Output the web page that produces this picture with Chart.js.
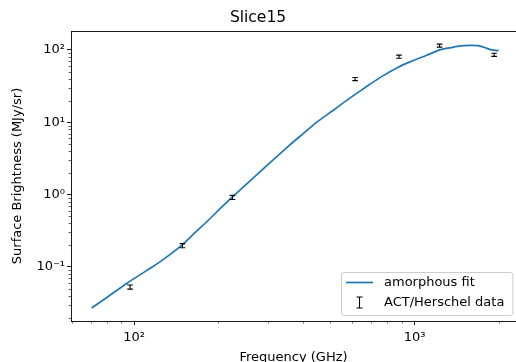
<!DOCTYPE html>
<html>
<head>
<meta charset="utf-8">
<script src="https://cdn.jsdelivr.net/npm/chart.js@4/dist/chart.umd.min.js"></script>
<style>
html,body{margin:0;padding:0;background:#fff}
#wrap{width:516px;height:362px;position:relative}
</style>
</head>
<body>
<div id="wrap"><canvas id="grafico"></canvas></div>
<script>
// curva do ajuste (GHz, MJy/sr)
const fitFreq=[70.6,80,94.7,110,124.5,148.8,165,182.8,204,224.3,250,300,353,400,452,515,578,660,760,868,967,1100,1238,1350,1420,1497,1600,1679,1770,1867,1995];
const fitVal=[0.0271,0.0379,0.060,0.0875,0.1196,0.203,0.298,0.432,0.655,0.929,1.36,2.59,4.59,6.93,10.3,14.8,20.6,29.4,42.5,57,69,84,101,108,112,115,116,115,109,101,98];

// pontos ACT/Herschel com barras de erro
const dataFreq=[96.8,148.8,224.3,614,880,1228,1922];
const dataVal=[0.0529,0.197,0.918,39.7,81,115,86];
const dataErr=[0.0035,0.013,0.06,2.0,4.0,5.5,4.3];

const xMajor=[100,1000];
const yMajor=[0.1,1,10,100];
const xRange=[59.6,2300];
const yRange=[0.0179,183];

const sup={'-':'⁻','0':'⁰','1':'¹','2':'²','3':'³','4':'⁴','5':'⁵','6':'⁶','7':'⁷','8':'⁸','9':'⁹'};
function potencia(v){
  const e=Math.round(Math.log10(v));
  return '10'+String(e).split('').map(c=>sup[c]).join('');
}
function menores(min,max){
  const out=[];
  for(let d=Math.floor(Math.log10(min));d<=Math.ceil(Math.log10(max));d++){
    for(let m=2;m<=9;m++){ const v=m*Math.pow(10,d); if(v>=min&&v<=max) out.push(v); }
  }
  return out;
}

const FONTE='"DejaVu Sans", sans-serif';
const TAM=13;

// spine de cima, ticks menores, barras de erro e legenda
const extras={
  id:'extras',
  afterDatasetsDraw(chart){
    const ctx=chart.ctx, a=chart.chartArea, xs=chart.scales.x, ys=chart.scales.y;
    ctx.save();
    // barras de erro
    ctx.strokeStyle='#000'; ctx.lineWidth=1.1;
    dataFreq.forEach((f,i)=>{
      const px=xs.getPixelForValue(f);
      const y1=ys.getPixelForValue(dataVal[i]-dataErr[i]);
      const y2=ys.getPixelForValue(dataVal[i]+dataErr[i]);
      ctx.beginPath();
      ctx.moveTo(px,y1); ctx.lineTo(px,y2);
      ctx.moveTo(px-2.8,y1); ctx.lineTo(px+2.8,y1);
      ctx.moveTo(px-2.8,y2); ctx.lineTo(px+2.8,y2);
      ctx.stroke();
    });
    // spine de cima
    ctx.lineWidth=0.9; ctx.strokeStyle='#000';
    ctx.beginPath(); ctx.moveTo(a.left,a.top+0.5); ctx.lineTo(a.right,a.top+0.5); ctx.stroke();
    // ticks menores
    ctx.lineWidth=0.6;
    ctx.beginPath();
    menores(xRange[0],xRange[1]).forEach(v=>{
      const px=Math.round(xs.getPixelForValue(v))+0.5;
      ctx.moveTo(px,a.bottom); ctx.lineTo(px,a.bottom+2.5);
    });
    menores(yRange[0],yRange[1]).forEach(v=>{
      const py=Math.round(ys.getPixelForValue(v))+0.5;
      ctx.moveTo(a.left,py); ctx.lineTo(a.left-2.5,py);
    });
    ctx.stroke();
    // legenda
    ctx.font=TAM+'px '+FONTE;
    const textos=['amorphous fit','ACT/Herschel data'];
    const tw=Math.max(...textos.map(t=>ctx.measureText(t).width));
    const w=43+tw+8, h=43;
    const x0=Math.round(a.right-4-w), y0=Math.round(a.bottom-6-h);
    ctx.beginPath();
    if(ctx.roundRect) ctx.roundRect(x0+0.5,y0+0.5,w,h,2.5); else ctx.rect(x0+0.5,y0+0.5,w,h);
    ctx.fillStyle='rgba(255,255,255,0.8)'; ctx.fill();
    ctx.strokeStyle='#cccccc'; ctx.lineWidth=1; ctx.stroke();
    ctx.strokeStyle='#1f77b4'; ctx.lineWidth=1.7;
    ctx.beginPath(); ctx.moveTo(x0+5,y0+10.5); ctx.lineTo(x0+32,y0+10.5); ctx.stroke();
    const ix=x0+18.5;
    ctx.strokeStyle='#000'; ctx.lineWidth=1.1;
    ctx.beginPath();
    ctx.moveTo(ix,y0+25); ctx.lineTo(ix,y0+36);
    ctx.moveTo(ix-3,y0+25); ctx.lineTo(ix+3,y0+25);
    ctx.moveTo(ix-3,y0+36); ctx.lineTo(ix+3,y0+36);
    ctx.stroke();
    ctx.fillStyle='#000'; ctx.textBaseline='middle'; ctx.textAlign='left';
    ctx.fillText(textos[0],x0+43,y0+11);
    ctx.fillText(textos[1],x0+43,y0+31);
    ctx.restore();
  }
};

new Chart(document.getElementById('grafico'),{
  type:'line',
  data:{
    datasets:[
      {label:'amorphous fit', data:fitFreq.map((f,i)=>({x:f,y:fitVal[i]})), borderColor:'#1f77b4', borderWidth:1.7, pointRadius:0, cubicInterpolationMode:'monotone', fill:false},
      {label:'ACT/Herschel data', data:dataFreq.map((f,i)=>({x:f,y:dataVal[i]})), showLine:false, pointRadius:0, borderColor:'#000'}
    ]
  },
  options:{
    responsive:true, maintainAspectRatio:false, animation:false,
    layout:{padding:{left:0,right:0,top:0,bottom:0}},
    plugins:{
      legend:{display:false},
      tooltip:{enabled:false},
      title:{display:true, text:'Slice15', color:'#000', font:{family:FONTE,size:15.5,weight:'normal',lineHeight:1.2}, padding:{top:9,bottom:3.4}}
    },
    scales:{
      x:{
        type:'logarithmic', min:xRange[0], max:xRange[1],
        afterBuildTicks:s=>{ s.ticks=xMajor.map(v=>({value:v})); },
        afterFit:s=>{ s.height=41; },
        ticks:{callback:v=>potencia(v), color:'#000', font:{family:FONTE,size:TAM}, padding:5, maxRotation:0, autoSkip:false},
        grid:{drawOnChartArea:false, drawTicks:true, tickLength:4, tickColor:'#000', tickWidth:0.9},
        border:{display:true, color:'#000', width:0.9},
        title:{display:true, text:'Frequency (GHz)', color:'#000', font:{family:FONTE,size:TAM}, padding:{top:0,bottom:-3}}
      },
      y:{
        type:'logarithmic', min:yRange[0], max:yRange[1],
        afterBuildTicks:s=>{ s.ticks=yMajor.map(v=>({value:v})); },
        afterFit:s=>{ s.width=71; },
        ticks:{callback:v=>potencia(v), color:'#000', font:{family:FONTE,size:TAM}, padding:2, autoSkip:false},
        grid:{drawOnChartArea:false, drawTicks:true, tickLength:4, tickColor:'#000', tickWidth:0.9},
        border:{display:true, color:'#000', width:0.9},
        title:{display:true, text:'Surface Brightness (MJy/sr)', color:'#000', font:{family:FONTE,size:TAM}, padding:{top:10,bottom:0}}
      }
    }
  },
  plugins:[extras]
});
</script>
</body>
</html>
